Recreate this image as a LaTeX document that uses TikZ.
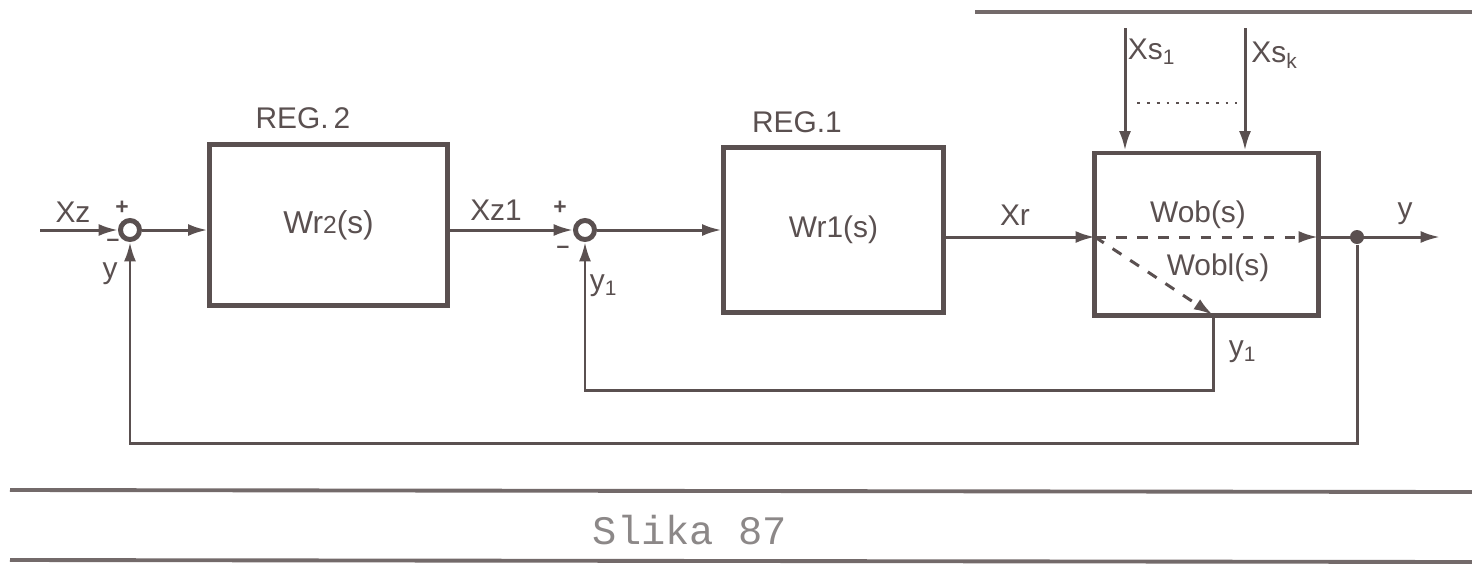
\documentclass[tikz,border=0pt]{standalone}
\usepackage{fontspec}
\setmainfont{Liberation Sans}
\newfontfamily\slikafont{Liberation Mono}
\usetikzlibrary{arrows.meta,positioning,calc}
\definecolor{ink}{HTML}{5A5050}
\definecolor{pale}{HTML}{8C8888}

\begin{document}
\begin{tikzpicture}[x=0.01cm,y=-0.01cm,
  blok/.style={draw=ink,line width=1.4pt,inner sep=0pt,font=\fontsize{9}{11}\selectfont,text=ink},
  sum/.style={circle,draw=ink,fill=white,line width=1.4pt,minimum size=0.19cm,inner sep=0pt},
  sig/.style={draw=ink,line width=0.85pt,-{Latex[length=5.5pt,width=3.4pt]}},
  lbl/.style={font=\fontsize{8.5}{10}\selectfont,text=ink,inner sep=1pt},
  sgn/.style={font=\fontsize{6.5}{8}\selectfont\bfseries,text=ink,inner sep=0pt},
  junc/.style={circle,fill=ink,minimum size=0.14cm,inner sep=0pt},
  rule/.style={draw=ink!85,line width=1.1pt},
]
  \useasboundingbox (0,0) rectangle (1472,566);

  % blocks
  \node[blok,minimum width=2.37cm,minimum height=1.60cm] (reg2) at (328.5,225) {Wr{\fontsize{7}{8}\selectfont 2}(s)};
  \node[blok,minimum width=2.19cm,minimum height=1.64cm,font=\fontsize{8.5}{10}\selectfont] (reg1) at (833.5,230) {Wr1(s)};
  \node[blok,minimum width=2.23cm,minimum height=1.62cm] (plant) at (1206.5,234) {};
  \node[lbl] (lreg2) at (303,118) {REG.\,2};
  \node[lbl] (lreg1) at (797,122) {REG.1};

  % summing points
  \node[sum] (s1) at (130,230) {};
  \node[sum] (s2) at (585,230) {};
  \node[junc] (dot) at (1357,237) {};

  \coordinate (xz) at (40,230);
  \coordinate (pin) at (1095,237);
  \coordinate (pout) at (1318,237);
  \coordinate (tap) at (1213,315);
  \coordinate (yout) at (1440,237);
  \coordinate (fb1) at (130,443);
  \coordinate (fb2) at (585,390);
  \coordinate (d1) at (1125,28);
  \coordinate (d2) at (1245,28);

  % forward path
  \draw[sig] (xz) -- (s1);
  \draw[sig] (s1) -- (s1 -| reg2.west);
  \draw[sig] (reg2.east |- s2) -- (s2);
  \draw[sig] (s2) -- (s2 -| reg1.west);
  \draw[sig] (reg1.east |- pin) -- (pin);
  \draw[sig,dashed] (pin) -- (pout);
  \draw[sig,dashed] (pin) -- (tap);
  \draw[sig] (pout) -- (yout);

  % feedback loops
  \draw[sig] (dot) |- (fb1) -- (s1);
  \draw[sig] (tap) |- (fb2) -- (s2);

  % disturbances
  \draw[sig] (d1) -- (d1 |- plant.north);
  \draw[sig] (d2) -- (d2 |- plant.north);
  \draw[ink,line width=0.8pt,dotted] (1137,103) -- (1237,103);

  % labels
  \node[lbl] (lxz) at (73,212) {Xz};
  \node[sgn] at (122,208) {+};
  \node[sgn] at (113,243) {\textendash};
  \node[lbl] (ly) at (110,274) {y};
  \node[lbl] (lxz1) at (496,210) {Xz1};
  \node[sgn] at (560,208) {+};
  \node[sgn] at (563,250) {\textendash};
  \node[lbl] (ly1a) at (604,286) {y\textsubscript{1}};
  \node[lbl] (lxr) at (1015,215) {Xr};
  \node[lbl] (lwob) at (1198,215) {Wob(s)};
  \node[lbl] (lwobl) at (1218,268) {Wobl(s)};
  \node[lbl] (ly1b) at (1243,352) {y\textsubscript{1}};
  \node[lbl] (lyout) at (1405,214) {y};
  \node[lbl] (lxs1) at (1152,52) {Xs\textsubscript{1}};
  \node[lbl] (lxsk) at (1275,55) {Xs\textsubscript{k}};

  % page rules and caption
  \draw[rule] (975,12) -- (1472,12);
  \draw[rule] (10,490) -- (1472,492);
  \draw[rule] (10,560) -- (1472,562);
  \node[font=\slikafont\fontsize{11.5}{13}\selectfont,text=pale] (cap) at (690,530) {Slika 87};
\end{tikzpicture}
\end{document}
